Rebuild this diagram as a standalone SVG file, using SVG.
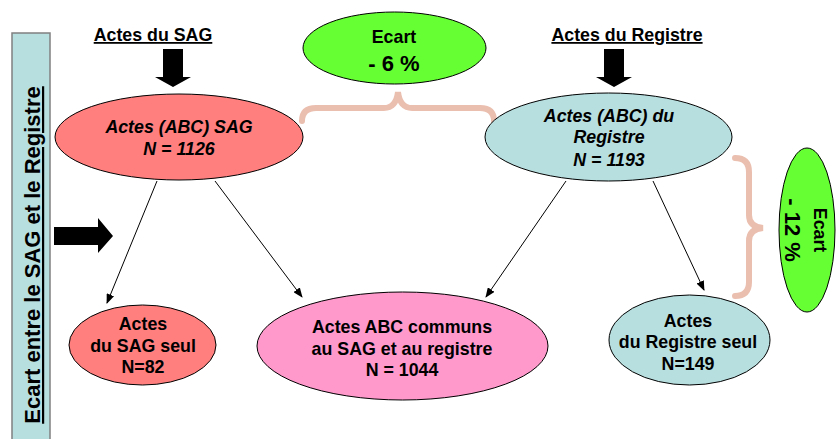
<svg xmlns="http://www.w3.org/2000/svg" width="840" height="439" viewBox="0 0 840 439">
<style>
text{font-family:"Liberation Sans",Arial,sans-serif;font-weight:bold;fill:#000;text-anchor:middle}
.red{fill:#ff7f7f;stroke:#000;stroke-width:1}
.blue{fill:#b8dfe0;stroke:#000;stroke-width:1}
.pink{fill:#ff99cc;stroke:#000;stroke-width:1}
.green{fill:#66ff33;stroke:#000;stroke-width:1}
.brace{fill:none;stroke:#ebbfb0;stroke-width:6;stroke-linecap:round}
.t17{font-size:17.8px}
.it{font-style:italic}
.u{text-decoration:underline}
.conn{stroke:#000;stroke-width:1;fill:none;marker-end:url(#ah)}
</style>
<defs>
<marker id="ah" markerWidth="10" markerHeight="8" refX="9" refY="4" orient="auto" markerUnits="userSpaceOnUse">
<path d="M0,0 L10,4 L0,8 z" fill="#000"/>
</marker>
</defs>
<rect width="840" height="439" fill="#fff"/>

<g id="side-bar">
<rect x="12" y="33" width="38" height="420" fill="#b8dfe0" stroke="#808080" stroke-width="1.5"/>
<text class="u" font-size="22" transform="translate(40,255) rotate(-90)">Ecart entre le SAG et le Registre</text>
</g>

<g id="side-arrow">
<polygon points="54,227 98,227 98,218 113,236 98,253 98,245 54,245" fill="#000"/>
</g>

<g id="label-sag">
<text class="t17 u" x="153" y="41">Actes du SAG</text>
<polygon points="163,49 183,49 183,77 191,77 173,87 155,77 163,77" fill="#000"/>
</g>

<g id="label-registre">
<text class="t17 u" x="627" y="41">Actes du Registre</text>
<polygon points="604,49 624,49 624,77 632,77 614,87 596,77 604,77" fill="#000"/>
</g>

<g id="ecart-6">
<ellipse class="green" cx="394.5" cy="48" rx="91.5" ry="36"/>
<text class="t17" x="394" y="43">Ecart</text>
<text font-size="22" x="394" y="71">- 6 %</text>
</g>

<g id="brace-top">
<path class="brace" d="M302,121 Q302,108 316,108 L384,108 Q396,108 398,92 Q400,108 412,108 L480,108 Q494,108 494,121"/>
</g>

<g id="ecart-12">
<ellipse class="green" cx="807" cy="230" rx="28" ry="82"/>
<g transform="translate(807,230) rotate(90)">
<text class="t17" x="0" y="-7">Ecart</text>
<text font-size="22" x="0" y="22">- 12 %</text>
</g>
</g>

<g id="brace-right">
<path class="brace" d="M735,158 Q749,158 749,172 L749,215 Q749,227 763,228 Q749,229 749,241 L749,282 Q749,296 735,296"/>
</g>

<g id="node-sag">
<ellipse class="red" cx="179" cy="137" rx="124" ry="43"/>
<text class="t17 it" x="179" y="133">Actes (ABC) SAG</text>
<text class="t17 it" x="179" y="155">N = 1126</text>
</g>

<g id="node-registre">
<ellipse class="blue" cx="608.5" cy="137" rx="123.5" ry="44"/>
<text class="t17 it" x="609" y="122">Actes (ABC) du</text>
<text class="t17 it" x="609" y="143">Registre</text>
<text class="t17 it" x="609" y="166">N = 1193</text>
</g>

<g id="node-sag-seul">
<ellipse class="red" cx="142.5" cy="345" rx="73.5" ry="40"/>
<text class="t17" x="143" y="330">Actes</text>
<text class="t17" x="143" y="352">du SAG seul</text>
<text class="t17" x="143" y="373">N=82</text>
</g>

<g id="node-communs">
<ellipse class="pink" cx="402.5" cy="346" rx="145.5" ry="54"/>
<text class="t17" x="402" y="333">Actes ABC communs</text>
<text class="t17" x="402" y="355">au SAG et au registre</text>
<text class="t17" x="402" y="376">N = 1044</text>
</g>

<g id="node-registre-seul">
<ellipse class="blue" cx="689.5" cy="340" rx="80.5" ry="45"/>
<text class="t17" x="688" y="327">Actes</text>
<text class="t17" x="688" y="348">du Registre seul</text>
<text class="t17" x="688" y="370">N=149</text>
</g>

<g id="connectors">
<line class="conn" x1="157" y1="181" x2="107" y2="303"/>
<line class="conn" x1="215" y1="181" x2="302" y2="297"/>
<line class="conn" x1="566" y1="181" x2="486" y2="297"/>
<line class="conn" x1="653" y1="181" x2="704" y2="290"/>
</g>
</svg>
